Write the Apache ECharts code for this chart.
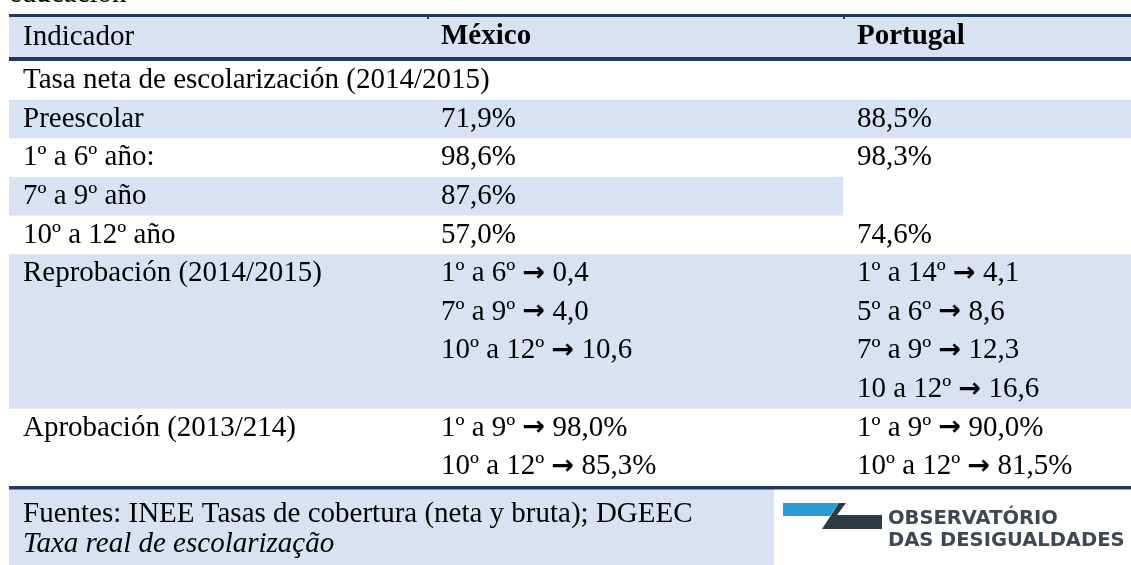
<!DOCTYPE html>
<html>
<head>
<meta charset="utf-8">
<script src="https://cdn.jsdelivr.net/npm/echarts@6/dist/echarts.min.js"></script>
<style>
  html, body { margin: 0; padding: 0; background: #fff; }
  #chart { width: 1131px; height: 565px; }
</style>
</head>
<body>
<div id="chart"></div>
<script>
// table content
const caption = "educación";
const headers = ["Indicador", "México", "Portugal"];
const indicators = [
  "Tasa neta de escolarización (2014/2015)",
  "Preescolar",
  "1º a 6º año:",
  "7º a 9º año",
  "10º a 12º año",
  "Reprobación (2014/2015)",
  "Aprobación (2013/214)",
];
const mexico = [
  [],
  ["71,9%"],
  ["98,6%"],
  ["87,6%"],
  ["57,0%"],
  ["1º a 6º → 0,4", "7º a 9º → 4,0", "10º a 12º → 10,6"],
  ["1º a 9º → 98,0%", "10º a 12º → 85,3%"],
];
const portugal = [
  [],
  ["88,5%"],
  ["98,3%"],
  [],
  ["74,6%"],
  ["1º a 14º → 4,1", "5º a 6º → 8,6", "7º a 9º → 12,3", "10 a 12º → 16,6"],
  ["1º a 9º → 90,0%", "10º a 12º → 81,5%"],
];
const rowLines = [1, 1, 1, 1, 1, 4, 2];
const sources = ["Fuentes: INEE Tasas de cobertura (neta y bruta); DGEEC", "Taxa real de escolarização"];
const logoLines = ["OBSERVATÓRIO", "DAS DESIGUALDADES"];

// layout
const W = 1131;
const H = 565;
const LINE = 38.65;
const BODY_TOP = 61;
const COLS = [9, 427, 843, W];
const PAD = 14;
const rowShade = [0, 3, 0, 2, 0, 3, 0];
const SERIF = '"Liberation Serif", "Times New Roman", serif';
const BAND = "#d9e2f3";
const RULE = "#1f3864";

const yLine = (px) => (px - BODY_TOP) / LINE;

const rowStart = [];
rowLines.reduce((acc, n, i) => {
  rowStart[i] = acc;
  return acc + n;
}, 0);

const chart = echarts.init(document.getElementById("chart"));

const rect = (api, x0, y0, x1, y1, fill) => {
  const a = api.coord([x0, y0]);
  const b = api.coord([x1, y1]);
  return {
    type: "rect",
    shape: { x: a[0], y: a[1], width: b[0] - a[0], height: b[1] - a[1] },
    style: { fill: fill },
  };
};

const text = (api, t, x, y, extra) => {
  const p = api.coord([x, y]);
  return {
    type: "text",
    x: p[0],
    y: p[1],
    style: Object.assign(
      {
        text: t.replace("→", "{a|→}"),
        fontFamily: SERIF,
        fontSize: 29,
        fill: "#000",
        align: "left",
        verticalAlign: "middle",
        rich: { a: { fontFamily: "DejaVu Sans", fontWeight: "bold", fontSize: 27, fill: "#000" } },
      },
      extra || {}
    ),
  };
};

const renderRow = (params, api) => {
  const i = api.value(0);
  const y0 = rowStart[i];
  const y1 = y0 + rowLines[i];
  const children = [];
  if (rowShade[i]) {
    children.push(rect(api, COLS[0], y0, COLS[rowShade[i]], y1, BAND));
  }
  const cells = [[indicators[i]], mexico[i], portugal[i]];
  cells.forEach((lines, c) => {
    lines.forEach((t, j) => {
      children.push(text(api, t, COLS[c] + PAD, y0 + j + 0.5));
    });
  });
  return { type: "group", children: children };
};

const renderFrame = (params, api) => {
  const children = [
    text(api, caption, COLS[0], yLine(-6)),
    rect(api, COLS[0], yLine(14), W, yLine(17), RULE),
    rect(api, COLS[0], yLine(17), W, yLine(57), BAND),
    rect(api, COLS[1], yLine(17), COLS[1] + 2, yLine(19), RULE),
    rect(api, COLS[2], yLine(17), COLS[2] + 2, yLine(19), RULE),
    rect(api, COLS[0], yLine(57), W, yLine(61), RULE),
    rect(api, COLS[0], yLine(489), 774, yLine(H), BAND),
    rect(api, COLS[0], yLine(486), W, yLine(489.5), RULE),
  ];
  headers.forEach((h, c) => {
    children.push(text(api, h, COLS[c] + PAD, yLine(37), { fontWeight: c ? "bold" : "normal" }));
  });
  children.push(text(api, sources[0], COLS[0] + PAD, yLine(514)));
  children.push(text(api, sources[1], COLS[0] + PAD, yLine(544), { fontStyle: "italic" }));

  // logo
  const poly = (pts, fill) => ({
    type: "polygon",
    shape: { points: pts.map((p) => api.coord([p[0], yLine(p[1])])) },
    style: { fill: fill },
  });
  children.push(poly([[783, 503], [839, 503], [830, 516], [783, 516]], "#2b9bd6"));
  children.push(poly([[839, 503], [846, 503], [837, 515], [882, 515], [882, 529], [822, 529]], "#2f3a45"));
  logoLines.forEach((t, k) => {
    children.push(
      text(api, t, 888, yLine(519 + k * 22), {
        fontFamily: '"DejaVu Sans", sans-serif',
        fontWeight: "bold",
        fontSize: 19.5,
        fill: "#3e4854",
      })
    );
  });
  return { type: "group", children: children };
};

const options = {
  animation: false,
  grid: { left: 0, right: 0, top: 0, bottom: 0 },
  xAxis: { type: "value", min: 0, max: W, show: false },
  yAxis: { type: "value", min: yLine(0), max: yLine(H), inverse: true, show: false },
  series: [
    {
      type: "custom",
      silent: true,
      clip: false,
      renderItem: renderFrame,
      data: [[0]],
    },
    {
      type: "custom",
      silent: true,
      clip: false,
      renderItem: renderRow,
      data: rowLines.map((n, i) => [i]),
      z: 3,
    },
  ],
};

chart.setOption(options);
</script>
</body>
</html>
